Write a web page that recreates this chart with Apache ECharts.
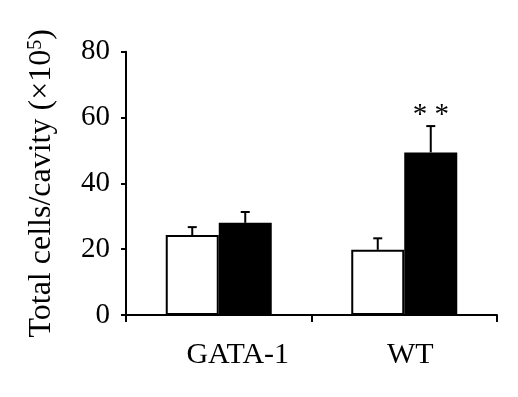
<!DOCTYPE html>
<html>
<head>
<meta charset="utf-8">
<script src="https://cdn.jsdelivr.net/npm/echarts@6/dist/echarts.min.js"></script>
<style>
html,body{margin:0;padding:0;background:#fff;}
#chart{width:518px;height:397px;}
</style>
</head>
<body>
<div id="chart"></div>
<script>
// ---- data ----
const categories = ['GATA-1', 'WT'];
const whiteValues = [24.3, 19.8];
const whiteErrors = [2.4, 3.5];
const blackValues = [28.0, 49.4];
const blackErrors = [3.3, 8.0];
const blackSignificance = ['', '* *'];
const yTicks = [0, 20, 40, 60, 80];

// ---- styling ----
const FONT = "'Liberation Serif', 'Times New Roman', serif";
const BAR_W = 53;
const labelShift = { 'GATA-1': 38, 'WT': 12 };

const chart = echarts.init(document.getElementById('chart'), null, { renderer: 'canvas' });

function errorSeries(values, errors, side, marks) {
  return {
    type: 'custom',
    z: 5,
    data: values.map((v, i) => [i, v, errors[i]]),
    encode: { x: 0, y: 1 },
    renderItem: function (params, api) {
      const i = api.value(0);
      const v = api.value(1);
      const e = api.value(2);
      const mark = marks ? marks[i] : '';
      const base = api.coord([i, v]);
      const top = api.coord([i, v + e]);
      const x = base[0] + side * BAR_W / 2;
      const children = [
        { type: 'line', shape: { x1: x, y1: base[1], x2: x, y2: top[1] }, style: { stroke: '#000', lineWidth: 2 } },
        { type: 'line', shape: { x1: x - 4.5, y1: top[1], x2: x + 4.5, y2: top[1] }, style: { stroke: '#000', lineWidth: 2 } }
      ];
      if (mark) {
        children.push({
          type: 'text',
          style: { text: mark, x: x, y: top[1] + 4, align: 'center', verticalAlign: 'bottom', font: '29px ' + FONT, fill: '#000' }
        });
      }
      return { type: 'group', children: children };
    }
  };
}

const option = {
  animation: false,
  backgroundColor: '#fff',
  grid: { left: 126, right: 21, top: 51.7, bottom: 82, containLabel: false },
  xAxis: {
    type: 'category',
    data: categories.map(c => ({ value: c, textStyle: { padding: [0, 0, 0, labelShift[c] || 0] } })),
    boundaryGap: true,
    axisLine: { lineStyle: { color: '#000', width: 2 } },
    axisTick: { show: true, length: 7, lineStyle: { color: '#000', width: 2 } },
    axisLabel: { fontSize: 30, fontFamily: FONT, color: '#000', margin: 25 },
    splitLine: { show: false }
  },
  yAxis: {
    type: 'value',
    min: yTicks[0],
    max: yTicks[yTicks.length - 1],
    interval: yTicks[1] - yTicks[0],
    name: '{t|Total cells/cavity (×10}{s|5}{t|)}',
    nameLocation: 'middle',
    nameRotate: 90,
    nameGap: 68,
    nameTextStyle: {
      rich: {
        t: { fontSize: 32, fontFamily: FONT, color: '#000' },
        s: { fontSize: 20, fontFamily: FONT, color: '#000', verticalAlign: 'top', padding: [0, 0, 12, 0] }
      }
    },
    axisLine: { show: true, lineStyle: { color: '#000', width: 2 } },
    axisTick: { show: true, length: 5, lineStyle: { color: '#000', width: 2 } },
    axisLabel: { fontSize: 29, fontFamily: FONT, color: '#000', margin: 16 },
    splitLine: { show: false }
  },
  series: [
    {
      type: 'bar',
      data: whiteValues,
      barWidth: BAR_W,
      barGap: '0%',
      itemStyle: { color: '#fff', borderColor: '#000', borderWidth: 2 }
    },
    {
      type: 'bar',
      data: blackValues,
      barWidth: BAR_W,
      barGap: '0%',
      itemStyle: { color: '#000', borderColor: '#000', borderWidth: 0 }
    },
    errorSeries(whiteValues, whiteErrors, -1, null),
    errorSeries(blackValues, blackErrors, 1, blackSignificance)
  ]
};

chart.setOption(option);
</script>
</body>
</html>
